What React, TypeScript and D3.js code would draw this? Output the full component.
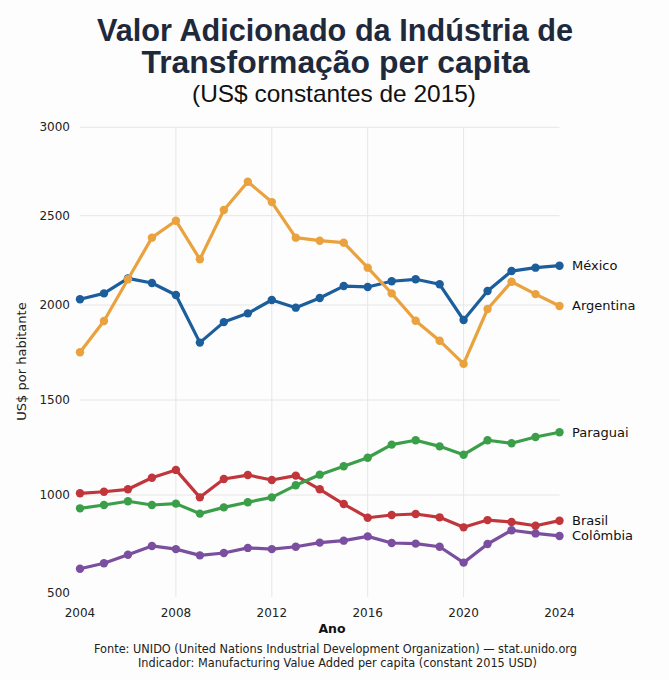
import React from "react";
import * as d3 from "d3";

const years = d3.range(2004, 2025);

const mexico = [2032, 2065, 2149, 2123, 2056, 1802, 1910, 1956, 2028, 1986, 2039, 2106, 2101, 2133, 2144, 2116, 1921, 2078, 2190, 2209, 2220];
const argentina = [1751, 1916, 2144, 2377, 2472, 2256, 2532, 2692, 2577, 2377, 2360, 2349, 2209, 2065, 1917, 1812, 1690, 1979, 2130, 2061, 1995];
const paraguai = [932, 949, 968, 949, 956, 905, 937, 963, 988, 1051, 1107, 1151, 1196, 1265, 1288, 1256, 1212, 1288, 1272, 1305, 1330];
const brasil = [1009, 1017, 1030, 1091, 1132, 988, 1084, 1105, 1079, 1102, 1030, 954, 884, 898, 903, 886, 835, 872, 862, 843, 869];
const colombia = [624, 652, 695, 740, 724, 692, 704, 730, 724, 736, 757, 767, 789, 755, 752, 736, 655, 750, 820, 804, 791];

const seriesNames = ["Brasil", "Colômbia", "Paraguai", "México", "Argentina"];
const seriesValues = [brasil, colombia, paraguai, mexico, argentina];
const seriesColors = ["#c1363b", "#7a4f9f", "#3b9f4a", "#1c5e9c", "#e9a23e"];

const yTicks = [500, 1000, 1500, 2000, 2500, 3000];
const xTicks = [2004, 2008, 2012, 2016, 2020, 2024];
const xGrid = [2008, 2012, 2016, 2020];

const titleLines = ["Valor Adicionado da Indústria de", "Transformação per capita"];
const subtitle = "(US$ constantes de 2015)";
const footerLines = [
  "Fonte: UNIDO (United Nations Industrial Development Organization) — stat.unido.org",
  "Indicador: Manufacturing Value Added per capita (constant 2015 USD)",
];

export default function App() {
  const W = 669;
  const H = 680;
  const x = d3.scaleLinear().domain([2004, 2024]).range([80, 559.5]);
  // gridline positions as drawn in the reference
  const y = d3
    .scaleLinear()
    .domain(yTicks)
    .range([593, 495, 400, 305, 215.7, 127.3]);

  const line = d3
    .line<number>()
    .x((_, i) => x(years[i]))
    .y((v) => y(v))
    .curve(d3.curveLinear);

  const tickFont = "'DejaVu Sans', sans-serif";

  return (
    <svg
      width={W}
      height={H}
      viewBox={`0 0 ${W} ${H}`}
      style={{ position: "absolute", left: 0, top: 0, background: "#fdfdfd" }}
    >
      <rect x={0} y={0} width={W} height={H} fill="#fdfdfd" />
      {/* Title */}
      <g fontFamily="'Liberation Sans', Arial, sans-serif" textAnchor="middle">
        <text x={335} y={40.7} fontSize={32} fontWeight={700} fill="#1e2a3b" textLength={476} lengthAdjust="spacingAndGlyphs">
          {titleLines[0]}
        </text>
        <text x={335.5} y={72.7} fontSize={32} fontWeight={700} fill="#1e2a3b" textLength={388} lengthAdjust="spacingAndGlyphs">
          {titleLines[1]}
        </text>
        <text x={334} y={101.5} fontSize={24} fill="#111" textLength={284} lengthAdjust="spacingAndGlyphs">
          {subtitle}
        </text>
      </g>

      {/* Grid */}
      <g stroke="#e6e6e6" strokeWidth={1}>
        {yTicks.filter((t) => t > 500).map((t) => (
          <line key={"h" + t} x1={x(2004)} x2={x(2024)} y1={y(t)} y2={y(t)} />
        ))}
        {xGrid.map((t) => (
          <line key={"v" + t} x1={x(t)} x2={x(t)} y1={y(3000)} y2={597} />
        ))}
      </g>

      {/* Y ticks */}
      <g fontFamily={tickFont} fontSize={12} fill="#222" textAnchor="end">
        {yTicks.map((t) => (
          <text key={t} x={70} y={y(t)} dominantBaseline="central">
            {t}
          </text>
        ))}
      </g>
      {/* X ticks */}
      <g fontFamily={tickFont} fontSize={12} fill="#222" textAnchor="middle">
        {xTicks.map((t) => (
          <text key={t} x={x(t)} y={617}>
            {t}
          </text>
        ))}
      </g>

      {/* Axis titles */}
      <text
        transform="translate(25.5,361.5) rotate(-90)"
        textAnchor="middle"
        fontFamily={tickFont}
        fontSize={13}
        fill="#222"
      >
        US$ por habitante
      </text>
      <text x={332} y={633} textAnchor="middle" fontFamily={tickFont} fontSize={12.5} fontWeight={700} fill="#111">
        Ano
      </text>

      {/* Series */}
      {seriesValues.map((vals, si) => (
        <g key={seriesNames[si]}>
          <path d={line(vals) || ""} fill="none" stroke={seriesColors[si]} strokeWidth={3.2} strokeLinejoin="round" />
          {vals.map((v, i) => (
            <circle key={i} cx={x(years[i])} cy={y(v)} r={4.2} fill={seriesColors[si]} />
          ))}
          <text
            x={x(2024) + 12.5}
            y={y(vals[vals.length - 1])}
            dominantBaseline="central"
            fontFamily={tickFont}
            fontSize={13}
            fill="#111"
          >
            {seriesNames[si]}
          </text>
        </g>
      ))}

      {/* Footer */}
      <g fontFamily={tickFont} fontSize={12} fill="#222" textAnchor="middle">
        <text x={335.5} y={653} textLength={483} lengthAdjust="spacingAndGlyphs">
          {footerLines[0]}
        </text>
        <text x={337.5} y={667} textLength={399} lengthAdjust="spacingAndGlyphs">
          {footerLines[1]}
        </text>
      </g>
    </svg>
  );
}
